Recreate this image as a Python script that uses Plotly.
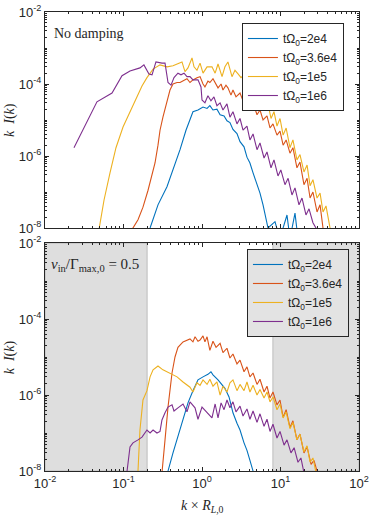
import plotly.graph_objects as go

# ---- data: k*R_L0 and k*I(k) ----
labels = ["tΩ<sub>0</sub>=2e4", "tΩ<sub>0</sub>=3.6e4", "tΩ<sub>0</sub>=1e5", "tΩ<sub>0</sub>=1e6"]
colors = ["#0072BD", "#D95319", "#EDB120", "#7E2F8E"]

# top panel: no damping
k_top_2e4 = [0.218, 0.275, 0.358, 0.453, 0.525, 0.625, 0.703, 0.767, 0.889, 1.03, 1.16, 1.26, 1.38, 1.55, 1.70,
             1.91, 2.08, 2.27, 2.48, 2.79, 3.05, 3.43, 3.74, 4.08, 4.47, 5.02, 5.48, 5.99, 6.35, 6.93, 8.51, 9.8,
             12.1, 13.2, 15.3, 16.7]
I_top_2e4 = [1e-8, 4.4e-8, 1.4e-7, 5.6e-7, 1.5e-6, 5.2e-6, 1.1e-5, 1.7e-5, 1.9e-5, 2.3e-5, 2.1e-5, 2.5e-5, 1.9e-5,
             2.0e-5, 1.4e-5, 1.3e-5, 9.5e-6, 8.5e-6, 5.5e-6, 4.2e-6, 2.5e-6, 1.8e-6, 9.3e-7, 6.4e-7, 3.4e-7, 1.6e-7,
             9.3e-8, 4.4e-8, 2.6e-8, 1e-8, 1.5e-8, 5e-9, 2.3e-8, 5e-9, 2.6e-8, 5e-9]

k_top_36e4 = [0.125, 0.132, 0.153, 0.177, 0.205, 0.231, 0.252, 0.275, 0.292, 0.318, 0.358, 0.391, 0.427, 0.481, 0.525,
              0.590, 0.644, 0.703, 0.767, 0.863, 0.944, 1.03, 1.09, 1.19, 1.26, 1.38, 1.47, 1.60, 1.75, 1.85, 2.02,
              2.14, 2.34, 2.48, 2.71, 3.05, 3.33, 3.74, 4.08, 4.47, 5.02, 5.48, 5.99, 6.73, 7.35, 8.02, 9.02, 9.86,
              10.8, 11.8, 13.2, 14.4, 16.2, 17.7, 19.9, 21.8, 23.8, 25.9, 29.2, 31.9, 34.8, 36.9]
I_top_36e4 = [5e-9, 1e-8, 1.7e-8, 3.8e-8, 1.1e-7, 3.0e-7, 6.4e-7, 2.0e-6, 5.2e-6, 1.2e-5, 3.6e-5, 6.8e-5, 1.0e-4,
              1.1e-4, 1.1e-4, 1.3e-4, 1.4e-4, 1.1e-4, 1.3e-4, 1.5e-4, 1.6e-4, 1.0e-4, 8.3e-5, 1.2e-4, 1.1e-4, 1.4e-4,
              1.1e-4, 7.8e-5, 1.0e-4, 6.8e-5, 9.3e-5, 7.8e-5, 4.9e-5, 6.8e-5, 4.4e-5, 5.6e-5, 3.4e-5, 4.4e-5, 2.5e-5,
              3.0e-5, 1.4e-5, 1.9e-5, 1.0e-5, 1.3e-5, 6.0e-6, 7.8e-6, 3.8e-6, 4.9e-6, 2.0e-6, 2.8e-6, 1.2e-6, 1.7e-6,
              4.7e-7, 6.8e-7, 1.6e-7, 2.4e-7, 6.8e-8, 1.0e-7, 2.8e-8, 4.4e-8, 1e-8, 5e-9]

k_top_1e5 = [0.0465, 0.0488, 0.0565, 0.0673, 0.0802, 0.0986, 0.121, 0.149, 0.172, 0.199, 0.238, 0.292, 0.358, 0.427,
             0.494, 0.556, 0.607, 0.663, 0.746, 0.791, 0.863, 0.944, 1.03, 1.16, 1.34, 1.47, 1.60, 1.80, 1.96, 2.14,
             2.41, 2.63, 2.88, 3.14, 3.43, 3.74, 4.08, 4.47, 4.88, 5.32, 5.81, 6.35, 6.93, 7.57, 8.26, 9.02, 9.86,
             10.8, 11.8, 13.2, 14.4, 16.2, 17.7, 19.9, 21.8, 23.8, 25.9, 29.2, 31.9, 34.8, 38.0, 42.8, 45.3]
I_top_1e5 = [5e-9, 1e-8, 6.0e-8, 3.4e-7, 1.7e-6, 6.4e-6, 1.7e-5, 4.9e-5, 8.8e-5, 1.5e-4, 2.6e-4, 3.4e-4, 3.0e-4,
             3.2e-4, 3.6e-4, 4.1e-4, 2.2e-4, 2.8e-4, 5.3e-4, 3.0e-4, 2.4e-4, 3.8e-4, 2.0e-4, 3.0e-4, 3.0e-4, 2.0e-4,
             3.6e-4, 1.6e-4, 3.0e-4, 4.1e-4, 1.6e-4, 2.4e-4, 1.9e-4, 1.5e-4, 1.8e-4, 9.3e-5, 1.1e-4, 6.0e-5, 7.8e-5,
             3.6e-5, 4.7e-5, 1.9e-5, 2.8e-5, 1.1e-5, 1.7e-5, 6.8e-6, 1.1e-5, 3.8e-6, 6.0e-6, 1.7e-6, 2.8e-6, 7.8e-7,
             1.1e-6, 3.6e-7, 5.6e-7, 1.5e-7, 2.2e-7, 6.8e-8, 9.3e-8, 2.8e-8, 4.1e-8, 1e-8, 5e-9]

k_top_1e6 = [0.0234, 0.0324, 0.0459, 0.0714, 0.0957, 0.121, 0.162, 0.182, 0.211, 0.231, 0.259, 0.309, 0.338, 0.369,
             0.403, 0.440, 0.494, 0.540, 0.590, 0.644, 0.703, 0.767, 0.889, 0.971, 1.0, 1.09, 1.19, 1.30, 1.42, 1.55,
             1.70, 1.85, 2.08, 2.27, 2.48, 2.79, 3.05, 3.33, 3.74, 4.08, 4.47, 5.02, 5.48, 6.17, 6.73, 7.57, 8.26,
             9.29, 10.1, 11.4, 12.5, 14.0, 15.3, 17.2, 18.8, 21.1, 23.1, 25.9, 28.3, 30.1]
I_top_1e6 = [1.7e-6, 7.3e-6, 3.2e-5, 5.6e-5, 1.7e-4, 2.3e-4, 2.8e-4, 3.4e-4, 1.9e-4, 1.8e-4, 4.1e-4, 3.8e-4, 3.8e-4,
             1.1e-4, 9.3e-5, 1.5e-4, 2.0e-4, 1.8e-4, 2.0e-4, 1.6e-4, 1.6e-4, 1.3e-4, 1.3e-4, 8.3e-5, 3.6e-5, 3.0e-5,
             4.7e-5, 3.4e-5, 4.4e-5, 2.5e-5, 3.0e-5, 1.9e-5, 2.8e-5, 1.2e-5, 1.7e-5, 7.8e-6, 1.1e-5, 5.2e-6, 6.8e-6,
             2.8e-6, 4.1e-6, 1.5e-6, 2.3e-6, 8.8e-7, 1.3e-6, 4.7e-7, 7.8e-7, 2.8e-7, 4.1e-7, 1.6e-7, 2.4e-7, 8.3e-8,
             1.3e-7, 4.4e-8, 6.8e-8, 2.3e-8, 3.4e-8, 1.4e-8, 1e-8, 5e-9]

# bottom panel: nu_in / Gamma_max,0 = 0.5
k_bot_2e4 = [0.358, 0.369, 0.427, 0.494, 0.573, 0.663, 0.767, 0.889, 1.03, 1.19, 1.30, 1.38, 1.60, 1.80, 1.96, 2.21,
             2.48, 2.79, 3.05, 3.43, 3.74, 4.08, 4.47, 4.73]
I_bot_2e4 = [5e-9, 1e-8, 3.0e-8, 7.8e-8, 2.2e-7, 6.2e-7, 1.3e-6, 2.5e-6, 3.0e-6, 3.5e-6, 4.1e-6, 3.4e-6, 2.5e-6,
             1.9e-6, 1.5e-6, 8.9e-7, 3.4e-7, 1.8e-7, 1.2e-7, 5.5e-8, 3.5e-8, 1.9e-8, 1e-8, 5e-9]

k_bot_36e4 = [0.301, 0.309, 0.338, 0.369, 0.415, 0.453, 0.494, 0.573, 0.644, 0.703, 0.767, 0.815, 0.889, 0.944, 1.03,
              1.09, 1.16, 1.26, 1.38, 1.51, 1.70, 1.85, 2.08, 2.27, 2.48, 2.79, 3.05, 3.43, 3.74, 4.08, 4.47, 5.02,
              5.48, 6.17, 6.73, 7.35, 8.02, 9.02, 9.86, 10.8, 11.8, 13.2, 14.4, 16.2, 17.7, 19.9, 21.8, 24.5, 26.7,
              29.2, 30.9]
I_bot_36e4 = [5e-9, 1e-8, 6.6e-8, 4.8e-7, 3.8e-6, 1.0e-5, 1.8e-5, 2.5e-5, 2.8e-5, 3.0e-5, 2.5e-5, 3.4e-5, 2.6e-5,
              2.8e-5, 3.6e-5, 2.5e-5, 3.4e-5, 1.5e-5, 2.6e-5, 1.8e-5, 2.3e-5, 1.3e-5, 1.7e-5, 9.4e-6, 1.2e-5, 6.6e-6,
              8.3e-6, 4.1e-6, 5.5e-6, 3.0e-6, 3.8e-6, 1.9e-6, 2.6e-6, 1.2e-6, 1.7e-6, 8.3e-7, 1.2e-6, 5.5e-7, 7.4e-7,
              2.6e-7, 4.1e-7, 1.4e-7, 2.1e-7, 6.6e-8, 9.4e-8, 3.0e-8, 4.3e-8, 1.5e-8, 1.9e-8, 1e-8, 5e-9]

k_bot_1e5 = [0.144, 0.153, 0.162, 0.177, 0.199, 0.218, 0.238, 0.275, 0.318, 0.391, 0.481, 0.573, 0.703, 0.767, 0.863,
             0.944, 1.03, 1.16, 1.26, 1.38, 1.55, 1.70, 1.85, 2.08, 2.27, 2.48, 2.79, 3.05, 3.43, 3.74, 4.08, 4.47,
             5.02, 5.48, 6.17, 6.73, 7.35, 8.02, 9.02, 9.86, 10.8, 11.8, 13.2, 14.4, 16.2, 17.7, 19.9, 21.8, 23.8,
             25.9, 28.3, 30.1]
I_bot_1e5 = [5e-9, 1e-8, 1.2e-7, 7.4e-7, 1.3e-6, 3.0e-6, 4.6e-6, 5.8e-6, 4.6e-6, 3.8e-6, 3.0e-6, 2.2e-6, 1.6e-6,
             1.2e-6, 2.1e-6, 1.8e-6, 2.5e-6, 1.9e-6, 2.6e-6, 1.7e-6, 2.2e-6, 1.0e-6, 1.7e-6, 1.2e-6, 2.1e-6, 2.5e-6,
             1.3e-6, 1.9e-6, 1.3e-6, 2.2e-6, 1.2e-6, 1.8e-6, 1.0e-6, 1.4e-6, 8.3e-7, 1.2e-6, 6.6e-7, 8.9e-7, 4.1e-7,
             5.8e-7, 2.5e-7, 3.6e-7, 1.3e-7, 1.9e-7, 6.6e-8, 9.4e-8, 3.2e-8, 4.6e-8, 1.7e-8, 2.2e-8, 1e-8, 5e-9]

k_bot_1e6 = [0.108, 0.111, 0.121, 0.132, 0.153, 0.172, 0.199, 0.218, 0.238, 0.267, 0.292, 0.309, 0.338, 0.369, 0.415,
             0.440, 0.494, 0.573, 0.644, 0.703, 0.815, 0.889, 1.0, 1.16, 1.34, 1.47, 1.60, 1.75, 1.91, 2.08, 2.27,
             2.48, 2.71, 3.05, 3.33, 3.74, 4.08, 4.47, 5.02, 5.48, 6.17, 6.73, 7.35, 8.02, 9.02, 9.86, 11.1, 12.1,
             13.6, 14.9, 16.7, 18.2, 19.9, 21.1]
I_bot_1e6 = [5e-9, 1e-8, 4.3e-8, 5.5e-8, 6.6e-8, 7.8e-8, 1.2e-7, 1.0e-7, 1.2e-7, 1.0e-7, 1.1e-7, 2.2e-7, 3.4e-7,
             4.8e-7, 5.5e-7, 3.8e-7, 4.6e-7, 5.8e-7, 3.6e-7, 6.6e-7, 4.6e-7, 2.3e-7, 4.8e-7, 3.4e-7, 2.5e-7, 5.8e-7,
             2.5e-7, 6.2e-7, 4.1e-7, 7.4e-7, 4.6e-7, 6.6e-7, 3.6e-7, 5.1e-7, 2.8e-7, 4.3e-7, 2.3e-7, 3.8e-7, 1.9e-7,
             3.2e-7, 1.5e-7, 2.3e-7, 1.1e-7, 1.7e-7, 7.4e-8, 1.1e-7, 4.8e-8, 6.6e-8, 3.0e-8, 4.1e-8, 1.7e-8, 2.2e-8,
             1e-8, 5e-9]

# damped k ranges shaded in the bottom panel
damped_low = [0.01, 0.2]
damped_high = [8, 100]

x_ticks = [1e-2, 1e-1, 1e0, 1e1, 1e2]
x_ticktext = ["10<sup>-2</sup>", "10<sup>-1</sup>", "10<sup>0</sup>", "10<sup>1</sup>", "10<sup>2</sup>"]
y_ticks = [1e-8, 1e-6, 1e-4, 1e-2]
y_ticktext = ["10<sup>-8</sup>", "10<sup>-6</sup>", "10<sup>-4</sup>", "10<sup>-2</sup>"]

top = [(k_top_2e4, I_top_2e4), (k_top_36e4, I_top_36e4), (k_top_1e5, I_top_1e5), (k_top_1e6, I_top_1e6)]
bot = [(k_bot_2e4, I_bot_2e4), (k_bot_36e4, I_bot_36e4), (k_bot_1e5, I_bot_1e5), (k_bot_1e6, I_bot_1e6)]

fig = go.Figure()
for i, (k, I) in enumerate(top):
    fig.add_trace(go.Scatter(x=k, y=I, mode="lines", name=labels[i], line=dict(color=colors[i], width=1.1),
                             xaxis="x", yaxis="y", legend="legend"))
for i, (k, I) in enumerate(bot):
    fig.add_trace(go.Scatter(x=k, y=I, mode="lines", name=labels[i], line=dict(color=colors[i], width=1.1),
                             xaxis="x2", yaxis="y2", legend="legend2"))

axcol = "#262626"
tickfont = dict(family="Liberation Sans, Arial", size=13, color=axcol)
minor_y = [m * 10.0 ** e for e in range(-8, -2) for m in range(1, 10)]
minor_x = [m * 10.0 ** e for e in range(-2, 2) for m in range(1, 10)]
minor_style = dict(ticks="inside", ticklen=2, tickcolor=axcol)

common = dict(type="log", showline=True, linecolor=axcol, linewidth=1, mirror="allticks", ticks="inside",
              ticklen=4, tickcolor=axcol, showgrid=False, zeroline=False, tickfont=tickfont, automargin=False)

fig.update_layout(
    width=374, height=520,
    margin=dict(l=45, r=15, t=12, b=49),
    paper_bgcolor="white", plot_bgcolor="white",
    xaxis=dict(**common, range=[-2, 2], domain=[0, 1], anchor="y", showticklabels=False,
               tickvals=x_ticks, minor=dict(tickvals=minor_x, **minor_style)),
    yaxis=dict(**common, range=[-8, -2], domain=[0.5294, 1], anchor="x",
               tickvals=y_ticks, ticktext=y_ticktext, minor=dict(tickvals=minor_y, **minor_style)),
    xaxis2=dict(**common, range=[-2, 2], domain=[0, 1], anchor="y2",
                tickvals=x_ticks, ticktext=x_ticktext, minor=dict(tickvals=minor_x, **minor_style)),
    yaxis2=dict(**common, range=[-8, -2], domain=[0, 0.4967], anchor="x2",
                tickvals=y_ticks, ticktext=y_ticktext, minor=dict(tickvals=minor_y, **minor_style)),
    legend=dict(x=0.952, y=0.976, xanchor="right", yanchor="top", bgcolor="white",
                bordercolor=axcol, borderwidth=1, tracegroupgap=0, itemwidth=30,
                font=dict(family="Liberation Sans, Arial", size=12, color=axcol)),
    legend2=dict(x=0.968, y=0.4837, xanchor="right", yanchor="top", bgcolor="#e3e3e3",
                 bordercolor=axcol, borderwidth=1, tracegroupgap=0, itemwidth=30,
                 font=dict(family="Liberation Sans, Arial", size=12, color=axcol)),
    showlegend=True,
)

for lo, hi in (damped_low, damped_high):
    fig.add_shape(type="rect", xref="x2", yref="y2 domain", x0=lo, x1=hi, y0=0, y1=1,
                  fillcolor="#dedede", line=dict(color="#b0b0b0", width=0.8), layer="below")

serif = "Liberation Serif, Times New Roman, serif"
fig.add_annotation(text="No damping", xref="paper", yref="paper", x=0.022, y=0.954,
                   xanchor="left", yanchor="middle", showarrow=False,
                   font=dict(family=serif, size=14, color=axcol))
fig.add_annotation(text="<i>ν</i><sub>in</sub>/Γ<sub>max,0</sub> = 0.5", xref="paper", yref="paper",
                   x=0.012, y=0.449, xanchor="left", yanchor="middle", showarrow=False,
                   font=dict(family=serif, size=15, color=axcol))
for yc in (0.765, 0.248):
    fig.add_annotation(text="<i>k</i>  <i>I</i>(<i>k</i>)", xref="paper", yref="paper", x=-0.111, y=yc,
                       xanchor="center", yanchor="middle", textangle=-90, showarrow=False,
                       font=dict(family=serif, size=14, color=axcol))
fig.add_annotation(text="<i>k</i> × <i>R</i><sub><i>L</i>,0</sub>", xref="paper", yref="paper", x=0.5, y=-0.078,
                   xanchor="center", yanchor="middle", showarrow=False,
                   font=dict(family=serif, size=14, color=axcol))

# drop the browser's default body margin so the 374x520 figure fills the window
fig.write_html("out.html", config={"displayModeBar": False},
               post_script="document.body.style.margin='0';")
